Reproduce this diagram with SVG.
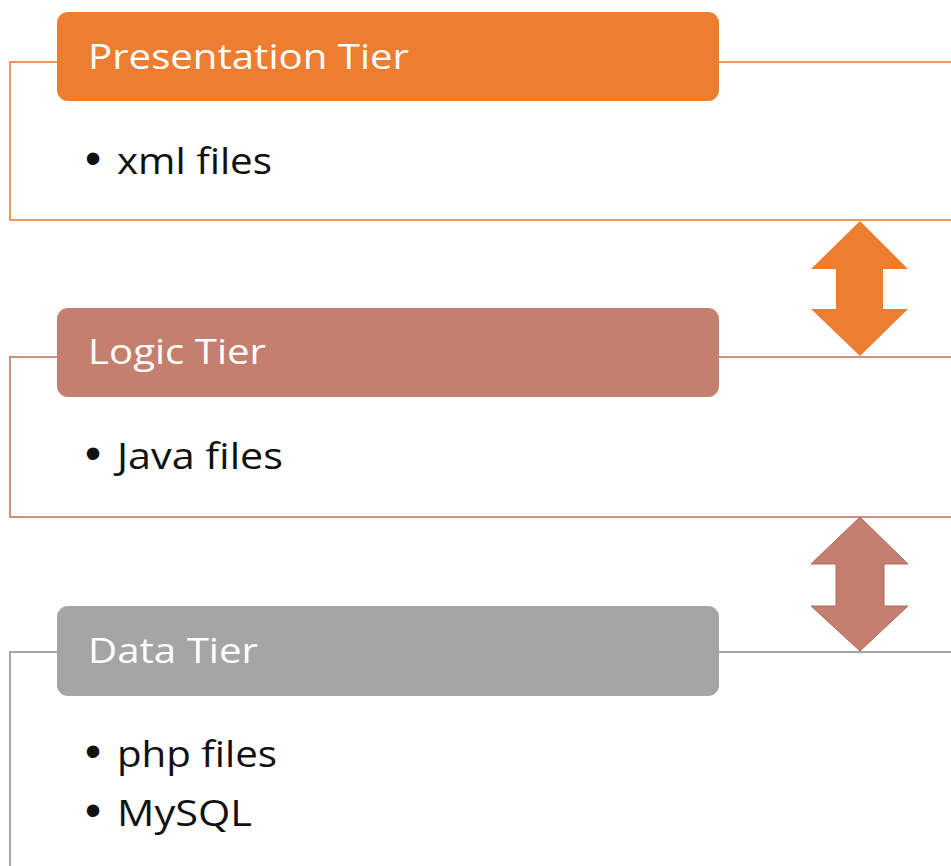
<svg xmlns="http://www.w3.org/2000/svg" width="951" height="866" viewBox="0 0 951 866">
<style>
.title{font-family:"Open Sans","Liberation Sans",sans-serif;font-size:35px;fill:#ffffff}
.item{font-family:"Open Sans","Liberation Sans",sans-serif;font-size:36px;fill:#111111}
.bul{font-family:"Liberation Sans",sans-serif;font-size:46px}
.frame{fill:none;stroke-width:2}
</style>
<rect width="951" height="866" fill="#ffffff"/>
<g id="presentation">
<rect class="frame" x="10" y="62" width="960" height="158" stroke="#F0995C"/>
<rect x="57" y="12" width="662" height="89" rx="11" fill="#ED7D31"/>
<text class="title" x="88" y="69" textLength="321" lengthAdjust="spacingAndGlyphs">Presentation Tier</text>
<text class="item" y="174"><tspan class="bul" x="85">•</tspan><tspan x="117" textLength="155" lengthAdjust="spacingAndGlyphs">xml files</tspan></text>
</g>
<g id="logic">
<rect class="frame" x="10" y="357" width="960" height="160" stroke="#CC9283"/>
<rect x="57" y="308" width="662" height="89" rx="11" fill="#C47F6E"/>
<text class="title" x="88" y="364" textLength="178" lengthAdjust="spacingAndGlyphs">Logic Tier</text>
<text class="item" y="469"><tspan class="bul" x="85">•</tspan><tspan x="117" textLength="166" lengthAdjust="spacingAndGlyphs">Java files</tspan></text>
</g>
<g id="data">
<rect class="frame" x="10" y="652" width="960" height="260" stroke="#A5A5A5"/>
<rect x="57" y="606" width="662" height="90" rx="11" fill="#A5A5A5"/>
<text class="title" x="88" y="663" textLength="170" lengthAdjust="spacingAndGlyphs">Data Tier</text>
<text class="item" y="767"><tspan class="bul" x="85">•</tspan><tspan x="117" textLength="160" lengthAdjust="spacingAndGlyphs">php files</tspan></text>
<text class="item" y="826"><tspan class="bul" x="85">•</tspan><tspan x="117" textLength="135" lengthAdjust="spacingAndGlyphs">MySQL</tspan></text>
</g>
<g id="connectors">
<polygon points="860,221 908,269 883,269 883,309 908,309 860,356 811,309 836,309 836,269 811,269" fill="#ED7D31"/>
<polygon points="860,517 908,564 884,564 884,606 908,606 860,651 811,606 836,606 836,564 811,564" fill="#C47F6E" stroke="#B5685A" stroke-width="1"/>
</g>
</svg>
